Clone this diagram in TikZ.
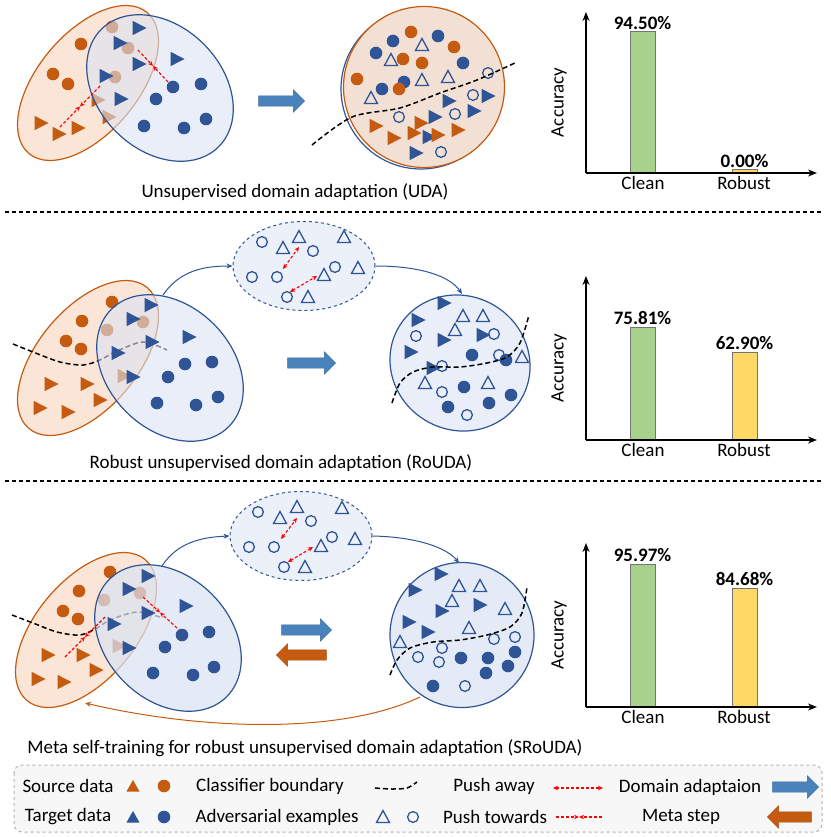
\documentclass[tikz,border=0pt]{standalone}
\usepackage{fontspec}
\setmainfont{Carlito}
\usetikzlibrary{shapes.geometric,shapes.arrows,arrows.meta,calc}
\definecolor{srccol}{HTML}{C55A11}
\definecolor{tgtcol}{HTML}{2F5597}
\definecolor{srcbg}{HTML}{FBE5D6}
\definecolor{tgtbg}{HTML}{DAE3F3}
\definecolor{advbg}{HTML}{EBF0F9}
\definecolor{mixbg}{HTML}{F2E0D4}
\definecolor{dacol}{HTML}{4A83BC}
\definecolor{barG}{HTML}{A9D18E}
\definecolor{barY}{HTML}{FFD966}
\definecolor{legbg}{HTML}{F7F7F7}
\tikzset{
srcell/.style={ellipse, draw=srccol, line width=1.2pt, fill=srcbg, minimum width=184pt, minimum height=100pt, inner sep=0pt},
tgtell/.style={ellipse, draw=tgtcol, line width=1.2pt, fill=tgtbg, fill opacity=0.6, minimum width=166pt, minimum height=124pt, inner sep=0pt},
advell/.style={ellipse, draw=tgtcol, dashed, line width=1pt, fill=advbg, minimum width=142pt, minimum height=89pt, inner sep=0pt},
bound/.style={black, line width=1.5pt, dash pattern=on 5pt off 3pt},
pushaway/.style={red, line width=1.1pt, dash pattern=on 3pt off 2pt, {Stealth[length=5pt,width=4.5pt]}-{Stealth[length=5pt,width=4.5pt]}},
pushto/.style={red, line width=1.1pt, dash pattern=on 3pt off 2pt, -{Stealth[length=5pt,width=4.5pt]}},
flow/.style={tgtcol, line width=1pt, -{Stealth[length=6pt,width=5pt]}},
metaflow/.style={srccol, line width=1pt, -{Stealth[length=6pt,width=5pt]}},
daarrow/.style={single arrow, fill=dacol, draw=dacol!80!black, line width=0.4pt, minimum height=46pt, minimum width=22pt, inner sep=5pt, single arrow head extend=6pt, single arrow head indent=0pt},
msarrow/.style={daarrow, fill=srccol, draw=srccol!80!black, shape border rotate=180},
sep/.style={black, line width=1.2pt, dash pattern=on 4pt off 3pt},
axis/.style={black, line width=1.5pt, -{Stealth[length=9pt,width=7pt]}},
bar/.style={draw=gray!90!black, line width=1pt},
val/.style={font=\fontsize{19}{23}\selectfont\bfseries, above, inner sep=2pt},
pics/dcirc/.style={code={\fill (0,0) circle[radius=6.3pt];}},
pics/dtri/.style={code={\fill (-5.5pt,7.2pt) -- (8.5pt,0pt) -- (-5.5pt,-7.2pt) -- cycle;}},
pics/acirc/.style={code={\draw[line width=1.3pt] (0,0) circle[radius=5.4pt];}},
pics/atri/.style={code={\draw[line width=1.3pt] (-6.5pt,-5.5pt) -- (0pt,6.5pt) -- (6.5pt,-5.5pt) -- cycle;}},
pics/ltri/.style={code={\fill (-6.5pt,-5.5pt) -- (0pt,6pt) -- (6.5pt,-5.5pt) -- cycle;}}
}
\begin{document}
\begin{tikzpicture}[x=1pt,y=-1pt,font=\fontsize{19}{23}\selectfont]
\useasboundingbox (0,0) rectangle (830,837);
\node[srcell, rotate=50] (src1) at (88,83) {};
\foreach \x/\y in {81/44,53/74,68/84,112/27,128/48,115/77} \pic[srccol] at (\x,\y) {dcirc};
\foreach \x/\y in {40/123,58/134,77/128,97/100,108/117} \pic[srccol] at (\x,\y) {dtri};
\node[tgtell, rotate=-45] (tgt1) at (160,88) {};
\foreach \x/\y in {138/28,119/43,138/64,105/76,120/99,176/59} \pic[tgtcol] at (\x,\y) {dtri};
\foreach \x/\y in {173/87,201/84,156/99,144/126,184/128,206/119} \pic[tgtcol] at (\x,\y) {dcirc};
\foreach \ax/\ay/\bx/\by in {60/127/100/86,138/50/168/82} {
\draw[pushto] (\ax,\ay) -- ($(\ax,\ay)!0.5!(\bx,\by)$);
\draw[pushto] (\bx,\by) -- ($(\ax,\ay)!0.5!(\bx,\by)$);
}
\node[daarrow] (da1) at (279,101) {};
\node[circle, draw=tgtcol, line width=1.2pt, minimum size=160pt] (mix0) at (421,89) {};
\node[circle, draw=srccol, fill=mixbg, line width=1.2pt, minimum size=161pt] (mix1) at (424,87) {};
\foreach \x/\y in {393/41,438/36,376/53,463/63,404/82,382/89} \pic[tgtcol] at (\x,\y) {dcirc};
\foreach \x/\y in {411/32,454/47,403/59,422/63,357/79,399/89} \pic[srccol] at (\x,\y) {dcirc};
\foreach \x/\y in {422/45,391/60,422/80,448/77,371/98} \pic[tgtcol] at (\x,\y) {atri};
\foreach \x/\y in {488/73,473/95,399/117,455/114,441/152} \pic[tgtcol] at (\x,\y) {acirc};
\foreach \x/\y in {487/96,448/101,473/111,434/117,428/137,415/153} \pic[tgtcol] at (\x,\y) {dtri};
\foreach \x/\y in {375/126,393/138,420/123,413/133,437/135,457/130} \pic[srccol] at (\x,\y) {dtri};
\draw[bound] plot[smooth] coordinates {(312,145) (352,117) (400,108) (440,93) (477,80) (517,62)};
\node (cap1) at (295,192) {Unsupervised domain adaptation (UDA)};
\draw[sep] (5,212) -- (822,212);
\node[srcell, rotate=50] (src2) at (88,358) {};
\foreach \x/\y in {112/302,82/321,66/341,81/349,107/330,143/322} \pic[srccol] at (\x,\y) {dcirc};
\foreach \x/\y in {50/384,86/384,99/400,39/408,67/412,123/376} \pic[srccol] at (\x,\y) {dtri};
\draw[bound] plot[smooth] coordinates {(13,344) (33,352) (60,362) (83,365) (100,360) (117,351) (143,342) (167,350)};
\node[tgtell, rotate=-45] (tgt2) at (170,368) {};
\foreach \x/\y in {150/305,132/319,151/342,117/353,132/377,188/337} \pic[tgtcol] at (\x,\y) {dtri};
\foreach \x/\y in {185/364,212/362,168/377,157/403,196/405,218/397} \pic[tgtcol] at (\x,\y) {dcirc};
\node[advell] (adv2) at (304,266) {};
\foreach \x/\y in {262/242,313/251,252/277,277/277,335/267,287/297} \pic[tgtcol] at (\x,\y) {acirc};
\foreach \x/\y in {299/237,283/248,344/237,358/268,324/275,308/297} \pic[tgtcol] at (\x,\y) {atri};
\draw[pushaway] (283,269) -- (299,247);
\draw[pushaway] (290,292) -- (317,276);
\node[tgtell, minimum width=142pt, minimum height=134pt, rotate=-30] (rob2) at (460,363) {};
\foreach \x/\y in {443/303,417/320,443/340,482/335,410/352,432/368} \pic[tgtcol] at (\x,\y) {dtri};
\foreach \x/\y in {463/316,483/316,455/330,522/357,425/383,488/383} \pic[tgtcol] at (\x,\y) {atri};
\foreach \x/\y in {416/336,494/334,442/366,499/355,442/392,467/415} \pic[tgtcol] at (\x,\y) {acirc};
\foreach \x/\y in {472/355,506/360,464/387,511/395,448/407,489/403} \pic[tgtcol] at (\x,\y) {dcirc};
\draw[bound] plot[smooth] coordinates {(392,403) (400,383) (413,372) (433,367) (460,367) (487,363) (507,357) (520,343) (529,315)};
\coordinate (o2) at (163,295);
\coordinate (i2) at (462,294);
\draw[flow] (o2) .. controls (180,270) and (205,266) .. (adv2.west);
\draw[flow] (adv2.east) .. controls (420,266) and (450,276) .. (i2);
\node[daarrow, minimum height=48pt] (da2) at (309,363) {};
\node (cap2) at (281,463) {Robust unsupervised domain adaptation (RoUDA)};
\draw[sep] (5,481) -- (822,481);
\node[srcell, rotate=50] (src3) at (86,630) {};
\foreach \x/\y in {110/572,79/591,63/611,78/619,104/600,140/593} \pic[srccol] at (\x,\y) {dcirc};
\foreach \x/\y in {47/655,82/655,95/670,37/679,63/682,118/646} \pic[srccol] at (\x,\y) {dtri};
\draw[bound] plot[smooth] coordinates {(12,615) (33,623) (57,632) (80,635) (97,628) (110,620) (137,612) (163,618)};
\node[tgtell, fill opacity=0.72, rotate=-45] (tgt3) at (168,638) {};
\foreach \x/\y in {147/576,128/589,147/613,113/624,128/648,185/606} \pic[tgtcol] at (\x,\y) {dtri};
\foreach \x/\y in {182/635,209/632,165/647,153/673,193/675,214/667} \pic[tgtcol] at (\x,\y) {dcirc};
\foreach \ax/\ay/\bx/\by in {65/657/105/617,143/597/177/628} {
\draw[pushto] (\ax,\ay) -- ($(\ax,\ay)!0.5!(\bx,\by)$);
\draw[pushto] (\bx,\by) -- ($(\ax,\ay)!0.5!(\bx,\by)$);
}
\node[advell] (adv3) at (301,536) {};
\foreach \x/\y in {258/512,311/521,249/547,274/547,332/537,284/567} \pic[tgtcol] at (\x,\y) {acirc};
\foreach \x/\y in {297/507,280/518,342/508,355/539,321/546,305/567} \pic[tgtcol] at (\x,\y) {atri};
\draw[pushaway] (281,539) -- (297,518);
\draw[pushaway] (288,562) -- (313,547);
\node[tgtell, fill opacity=0.72, minimum width=144pt, minimum height=145pt] (rob3) at (462,635) {};
\foreach \x/\y in {440/574,414/590,441/611,479/605,408/622,427/632} \pic[tgtcol] at (\x,\y) {dtri};
\foreach \x/\y in {459/586,480/586,452/601,505/609,469/628,400/642} \pic[tgtcol] at (\x,\y) {atri};
\foreach \x/\y in {515/637,494/639,442/648,418/657,439/662,465/686} \pic[tgtcol] at (\x,\y) {acirc};
\foreach \x/\y in {515/652,461/658,488/658,508/666,486/673,433/686} \pic[tgtcol] at (\x,\y) {dcirc};
\draw[bound] plot[smooth] coordinates {(390,675) (397,660) (410,648) (433,642) (460,640) (487,635) (510,627) (522,613) (527,587)};
\coordinate (o3) at (162,566);
\coordinate (i3) at (459,563);
\coordinate (m3) at (420,697);
\coordinate (e3) at (85,703);
\draw[flow] (o3) .. controls (178,541) and (205,537) .. (adv3.west);
\draw[flow] (adv3.east) .. controls (420,537) and (448,549) .. (i3);
\draw[metaflow] (m3) .. controls (340,735) and (200,730) .. (e3);
\node[daarrow, minimum height=50pt] (da3) at (304,630) {};
\node[msarrow, minimum height=50pt] (ms3) at (304,655) {};
\node (cap3) at (305,748) {Meta self-training for robust unsupervised domain adaptation (SRoUDA)};
\foreach \b/\t/\ca/\ra/\cv/\rv [count=\i] in {173/12/32/170/94.50/0.00,440/276/327/352/75.81/62.90,707/543/564/588/95.97/84.68} {
\draw[bar, fill=barG] (630,\b) rectangle (655,\ca);
\draw[bar, fill=barY] (732,\b) rectangle (757,\ra);
\draw[axis] (586,\b) -- (586,\t);
\draw[axis] (586,\b) -- (817,\b);
\node[val] (cv\i) at (642.5,\ca) {\cv\%};
\node[val] (rv\i) at (744.5,\ra) {\rv\%};
\node[below] (cl\i) at (643,\b) {Clean};
\node[below] (rb\i) at (744,\b) {Robust};
\node[rotate=90] (ac\i) at (559,{(\b+\t)/2+10}) {Accuracy};
}
\draw[draw=gray!60, fill=legbg, dashed, line width=1pt, rounded corners=8pt] (14,765) rectangle (822,832);
\node (lsrc) at (68,786) {Source data};
\pic[srccol] at (133,786) {ltri};
\pic[srccol] at (164,786) {dcirc};
\node (ltgt) at (68,817) {Target data};
\pic[tgtcol] at (133,817) {ltri};
\pic[tgtcol] at (164,817) {dcirc};
\node (lcb) at (270,786) {Classifier boundary};
\draw[bound] plot[smooth] coordinates {(375,788) (392,789) (407,788) (417,782)};
\node (ladv) at (277,817) {Adversarial examples};
\pic[tgtcol] at (383,817) {atri};
\pic[tgtcol] at (413,817) {acirc};
\node (lpa) at (494,786) {Push away};
\draw[pushaway] (553,788) -- (603,788);
\node (lpt) at (495,817) {Push towards};
\draw[pushto] (556,817) -- (579,817);
\draw[pushto] (602,817) -- (579,817);
\node (lda) at (690,787) {Domain adaptaion};
\node[daarrow] (lda2) at (793,787) {};
\node (lms) at (681,817) {Meta step};
\node[msarrow, minimum height=44pt] (lms2) at (792,817) {};
\end{tikzpicture}
\end{document}
